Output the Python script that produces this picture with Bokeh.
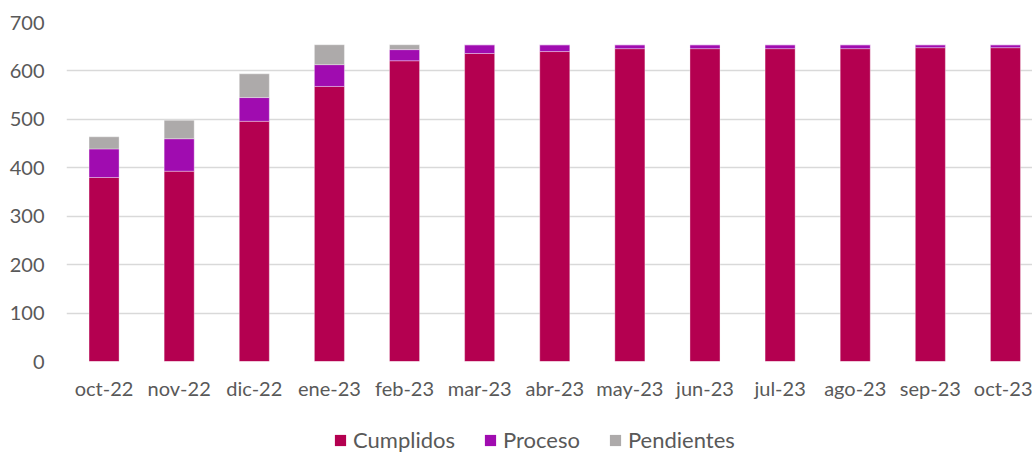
from bokeh.plotting import figure
from bokeh.layouts import column
from bokeh.models import Range1d, FixedTicker, Legend
from bokeh.embed import file_html
from bokeh.resources import INLINE

months = ["oct-22", "nov-22", "dic-22", "ene-23", "feb-23", "mar-23", "abr-23",
          "may-23", "jun-23", "jul-23", "ago-23", "sep-23", "oct-23"]
cumplidos = [380, 393, 496, 568, 621, 636, 640, 646, 646, 646, 646, 648, 648]
proceso = [59, 67, 49, 45, 23, 18, 14, 8, 8, 8, 8, 6, 6]
pendientes = [25, 38, 49, 41, 10, 0, 0, 0, 0, 0, 0, 0, 0]
series = ["Cumplidos", "Proceso", "Pendientes"]
colors = ["#B40050", "#A00CB0", "#ADAAAA"]
yticks = [0, 100, 200, 300, 400, 500, 600, 700]

FONT = "Lato"
TXT = "#595959"

xs = list(range(len(months)))
data = {"x": xs, "Cumplidos": cumplidos, "Proceso": proceso, "Pendientes": pendientes}

p = figure(width=1032, height=402, output_backend="svg", toolbar_location=None,
           x_range=Range1d(-0.5, 12.36), y_range=Range1d(0, 700),
           min_border_left=66, min_border_right=0, min_border_top=22, min_border_bottom=40)
p.outline_line_color = None

rs = p.vbar_stack(series, x="x", width=0.4, source=data, fill_color=colors,
                  line_color="white", line_alpha=0.35, line_width=1)

p.xaxis.ticker = FixedTicker(ticks=xs)
p.xaxis.major_label_overrides = {i: m for i, m in enumerate(months)}
p.yaxis.ticker = FixedTicker(ticks=yticks)
for ax in (p.xaxis[0], p.yaxis[0]):
    ax.axis_line_color = None
    ax.major_tick_line_color = None
    ax.minor_tick_line_color = None
    ax.major_tick_out = 0
    ax.major_label_text_font = FONT
    ax.major_label_text_font_size = "20px"
    ax.major_label_text_color = TXT
p.yaxis.major_label_standoff = 22
p.xaxis.major_label_standoff = 14

p.xgrid.grid_line_color = None
p.ygrid.ticker = FixedTicker(ticks=yticks)
p.ygrid.grid_line_color = "#D9D9D9"
p.ygrid.grid_line_width = 1.5

# legend panel below the chart (swatch renderers have zero size)
lf = figure(width=1032, height=53, output_backend="svg", toolbar_location=None,
            x_range=Range1d(0, 1), y_range=Range1d(0, 1),
            x_axis_location=None, y_axis_location=None,
            min_border_left=0, min_border_right=0, min_border_top=0, min_border_bottom=0)
lf.grid.visible = False
lf.outline_line_color = None
swatch = {"x": [0.5], "top": [0]}
lrs = [lf.vbar(x="x", top="top", bottom=0, width=0, source=swatch, fill_color=c,
               line_color=None) for c in colors]
legend = Legend(items=[(s, [r]) for s, r in zip(series, lrs)], orientation="horizontal",
                location=(267, 2), border_line_color=None, background_fill_alpha=0,
                padding=0, margin=0,
                glyph_width=14, glyph_height=14, label_standoff=6, spacing=28,
                label_text_font=FONT, label_text_font_size="22px", label_text_color=TXT)
lf.add_layout(legend, "center")

layout = column(p, lf, spacing=0)
open("out.html", "w").write(file_html(layout, INLINE))
